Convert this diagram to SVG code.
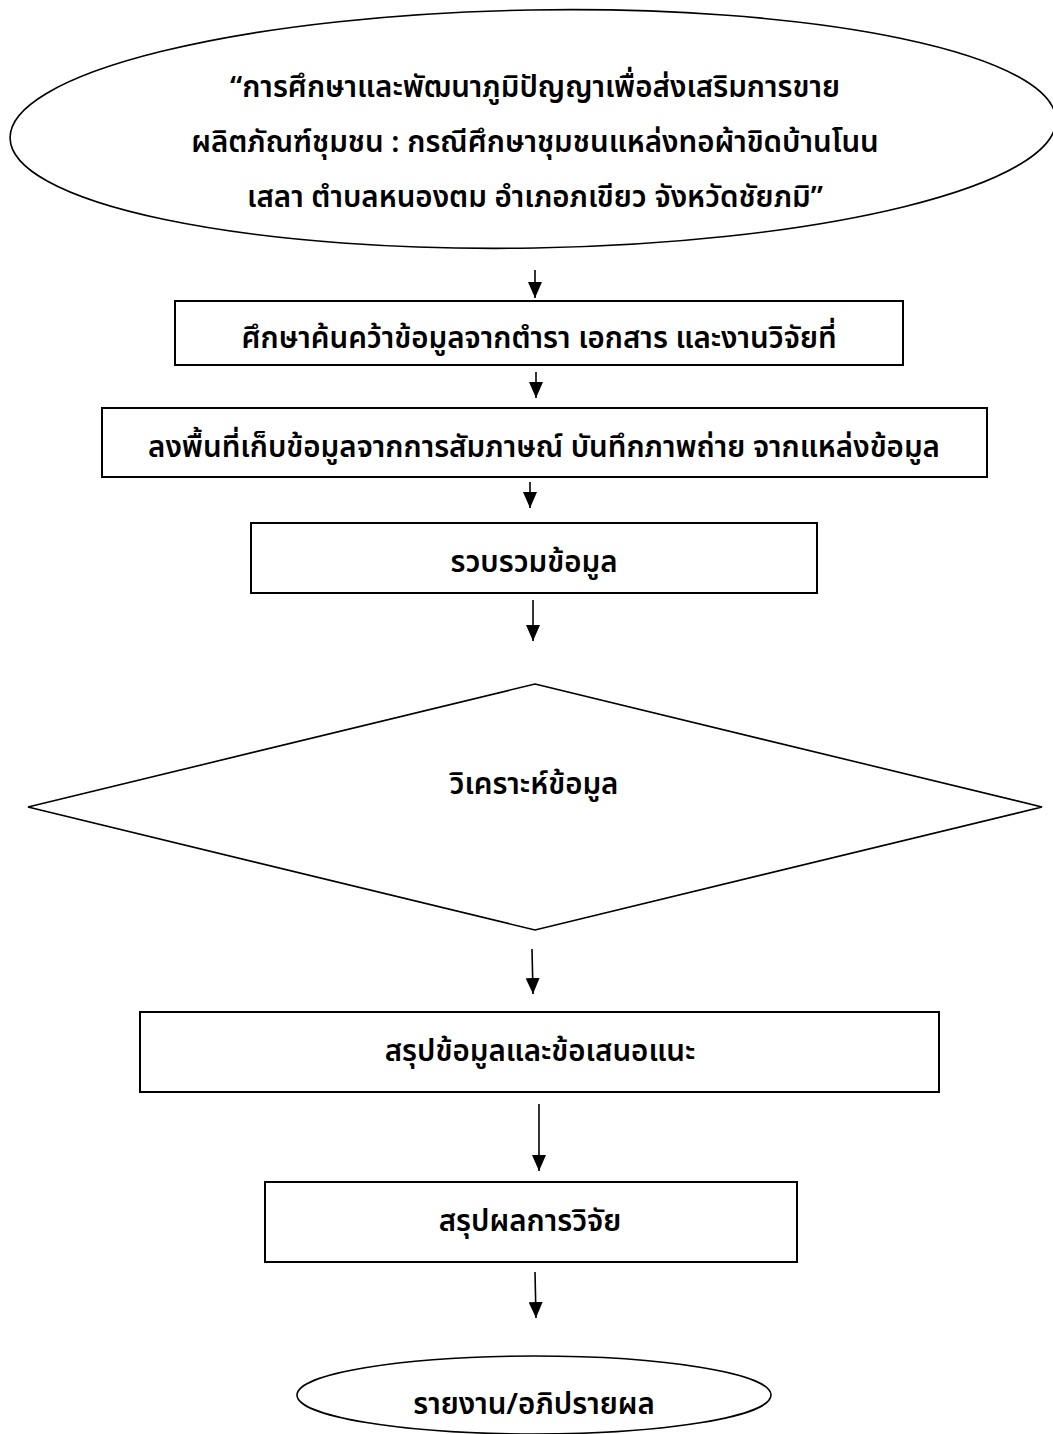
<svg xmlns="http://www.w3.org/2000/svg" width="1053" height="1434" viewBox="0 0 1053 1434">
<style>
.shape{fill:#fff;stroke:#000;stroke-width:2}
.thin{fill:#fff;stroke:#000;stroke-width:1.6}
.lbl{font-family:"Noto Sans Thai","Noto Sans","Liberation Sans","Noto Sans CJK SC",sans-serif;font-size:29.5px;font-weight:600;fill:#000;text-anchor:middle}
.conn line{stroke:#000;stroke-width:1.6}
</style>
<defs>
<marker id="ah" markerUnits="userSpaceOnUse" markerWidth="16" markerHeight="14" refX="16" refY="7" orient="auto" viewBox="0 0 16 14">
<path d="M0,0 L16,7 L0,14 Z" fill="#000"/>
</marker>
</defs>
<rect width="1053" height="1434" fill="#fff"/>
<g id="title">
<ellipse class="thin" cx="533" cy="129" rx="523" ry="119" transform="rotate(-1 533 129)"/>
<text class="lbl" x="535" y="97">“การศึกษาและพัฒนาภูมิปัญญาเพื่อส่งเสริมการขาย</text>
<text class="lbl" x="535" y="152">ผลิตภัณฑ์ชุมชน : กรณีศึกษาชุมชนแหล่งทอผ้าขิดบ้านโนน</text>
<text class="lbl" x="535" y="207">เสลา ตำบลหนองตม อำเภอภเขียว จังหวัดชัยภมิ”</text>
</g>
<g id="n1">
<rect class="shape" x="175" y="301" width="728" height="64"/>
<text class="lbl" x="539" y="348">ศึกษาค้นคว้าข้อมูลจากตำรา เอกสาร และงานวิจัยที่</text>
</g>
<g id="n2">
<rect class="shape" x="102" y="408" width="885" height="69"/>
<text class="lbl" x="544" y="457">ลงพื้นที่เก็บข้อมูลจากการสัมภาษณ์ บันทึกภาพถ่าย จากแหล่งข้อมูล</text>
</g>
<g id="n3">
<rect class="shape" x="251" y="523" width="566" height="70"/>
<text class="lbl" x="534" y="572">รวบรวมข้อมูล</text>
</g>
<g id="n4">
<polygon class="thin" points="535,684 1042,807 535,930 28,807"/>
<text class="lbl" x="534" y="794">วิเคราะห์ข้อมูล</text>
</g>
<g id="n5">
<rect class="shape" x="140" y="1012" width="799" height="80"/>
<text class="lbl" x="540" y="1061">สรุปข้อมูลและข้อเสนอแนะ</text>
</g>
<g id="n6">
<rect class="shape" x="265" y="1182" width="532" height="80"/>
<text class="lbl" x="530" y="1231">สรุปผลการวิจัย</text>
</g>
<g id="n7">
<ellipse class="thin" cx="534" cy="1395" rx="237" ry="39"/>
<text class="lbl" x="534" y="1414">รายงาน/อภิปรายผล</text>
</g>
<g id="connectors" class="conn">
<line x1="535" y1="270" x2="535" y2="298" marker-end="url(#ah)"/>
<line x1="536" y1="372" x2="536" y2="398" marker-end="url(#ah)"/>
<line x1="530" y1="482" x2="530" y2="508" marker-end="url(#ah)"/>
<line x1="533" y1="600" x2="533" y2="641" marker-end="url(#ah)"/>
<line x1="532" y1="949" x2="533" y2="994" marker-end="url(#ah)"/>
<line x1="539" y1="1104" x2="539" y2="1171" marker-end="url(#ah)"/>
<line x1="535" y1="1272" x2="536" y2="1318" marker-end="url(#ah)"/>
</g>
</svg>
